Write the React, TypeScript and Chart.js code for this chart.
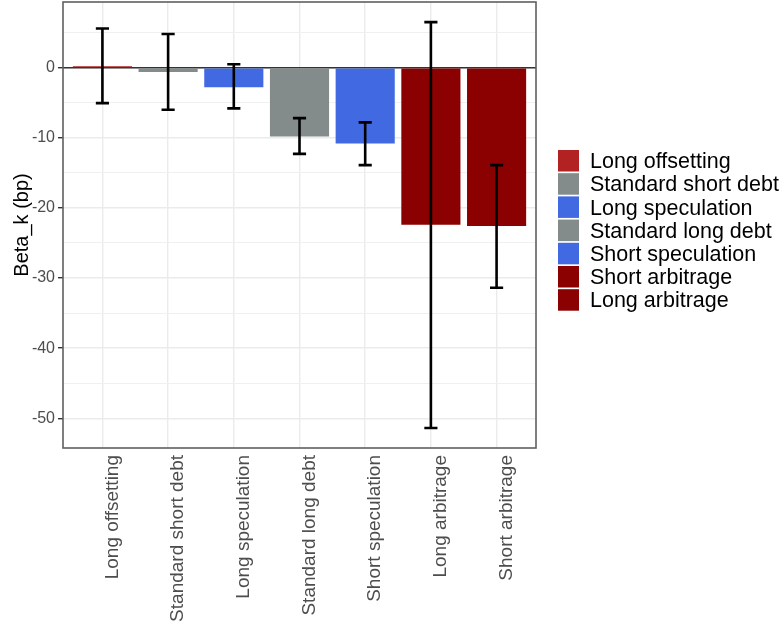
import React, { useEffect, useRef } from "react";
import { Chart, registerables } from "chart.js";

Chart.register(...registerables);

const categories = [
  "Long offsetting",
  "Standard short debt",
  "Long speculation",
  "Standard long debt",
  "Short speculation",
  "Long arbitrage",
  "Short arbitrage",
];
const betaValues = [0.2, -0.6, -2.8, -9.8, -10.8, -22.4, -22.6];
const lowerCI = [-5.05, -6.0, -5.8, -12.3, -13.9, -51.4, -31.4];
const upperCI = [5.6, 4.8, 0.5, -7.2, -7.8, 6.5, -13.9];
const barColors = ["#B22222", "#838B8B", "#4169E1", "#838B8B", "#4169E1", "#8B0000", "#8B0000"];

const legendLabels = [
  "Long offsetting",
  "Standard short debt",
  "Long speculation",
  "Standard long debt",
  "Short speculation",
  "Short arbitrage",
  "Long arbitrage",
];
const legendColors = ["#B22222", "#838B8B", "#4169E1", "#838B8B", "#4169E1", "#8B0000", "#8B0000"];

const yTickValues = [-50, -45, -40, -35, -30, -25, -20, -15, -10, -5, 0, 5];
const yMin = -54.25;
const yMax = 9.37;

const FONT = "'Liberation Sans', Arial, sans-serif";

const decorPlugin = {
  id: "decor",
  beforeDatasetsDraw(chart: any) {
    const { ctx, chartArea, scales } = chart;
    const y0 = scales.y.getPixelForValue(0);
    ctx.save();
    ctx.strokeStyle = "#333333";
    ctx.lineWidth = 1.5;
    ctx.beginPath();
    ctx.moveTo(chartArea.left, y0);
    ctx.lineTo(chartArea.right, y0);
    ctx.stroke();
    ctx.restore();
  },
  afterDatasetsDraw(chart: any) {
    const { ctx, chartArea, scales } = chart;
    const xs = scales.x;
    const ys = scales.y;
    const half = xs.getPixelForValue(0.1) - xs.getPixelForValue(0);
    ctx.save();
    ctx.strokeStyle = "#000000";
    ctx.lineWidth = 2.6;
    ctx.lineCap = "butt";
    categories.forEach((_, i) => {
      const x = xs.getPixelForValue(i);
      const yl = ys.getPixelForValue(lowerCI[i]);
      const yh = ys.getPixelForValue(upperCI[i]);
      ctx.beginPath();
      ctx.moveTo(x, yl);
      ctx.lineTo(x, yh);
      ctx.moveTo(x - half, yl);
      ctx.lineTo(x + half, yl);
      ctx.moveTo(x - half, yh);
      ctx.lineTo(x + half, yh);
      ctx.stroke();
    });
    // panel border
    ctx.strokeStyle = "#5f5f5f";
    ctx.lineWidth = 1.6;
    ctx.strokeRect(chartArea.left, chartArea.top, chartArea.right - chartArea.left, chartArea.bottom - chartArea.top);
    ctx.restore();
  },
  afterDraw(chart: any) {
    const { ctx } = chart;
    ctx.save();
    const keyX = 558;
    const keyW = 21;
    const keyH = 21.5;
    const top0 = 150;
    const step = 23.2;
    ctx.font = `21.5px ${FONT}`;
    ctx.textBaseline = "alphabetic";
    ctx.textAlign = "left";
    legendLabels.forEach((lab, i) => {
      const top = top0 + i * step;
      ctx.fillStyle = legendColors[i];
      ctx.fillRect(keyX, top, keyW, keyH);
      ctx.fillStyle = "#000000";
      ctx.fillText(lab, 590, top + keyH / 2 + 7.5);
    });
    ctx.restore();
  },
};

export default function App() {
  const canvasRef = useRef<HTMLCanvasElement | null>(null);

  useEffect(() => {
    const canvas = canvasRef.current;
    if (!canvas) return;
    const chart = new Chart(canvas, {
      type: "bar",
      data: {
        datasets: [
          {
            data: categories.map((_, i) => ({ x: i, y: betaValues[i] })) as any,
            backgroundColor: barColors,
            borderWidth: 0,
            categoryPercentage: 0.9,
            barPercentage: 1.0,
          },
        ],
      },
      options: {
        animation: false,
        responsive: false,
        devicePixelRatio: 1,
        layout: { padding: { top: 2, right: 248, left: 0, bottom: 0 } },
        plugins: { legend: { display: false }, tooltip: { enabled: false } },
        scales: {
          x: {
            type: "linear",
            min: -0.6,
            max: 6.6,
            offset: false,
            afterBuildTicks: (s: any) => {
              s.ticks = categories.map((_, i) => ({ value: i }));
            },
            afterFit: (s: any) => {
              s.height = 180;
              s.paddingLeft = 0;
              s.paddingRight = 0;
            },
            grid: {
              offset: false,
              color: "#EBEBEB",
              lineWidth: 1.4,
              tickLength: 4,
              tickColor: "rgba(0,0,0,0)",
            },
            border: { display: false },
            ticks: {
              autoSkip: false,
              minRotation: 90,
              maxRotation: 90,
              padding: 3,
              labelOffset: 10,
              color: "#4D4D4D",
              font: { family: FONT, size: 19 },
              callback: (v: any) => categories[v] ?? "",
            },
          },
          y: {
            type: "linear",
            min: yMin,
            max: yMax,
            afterBuildTicks: (s: any) => {
              s.ticks = yTickValues.map((v) => ({ value: v }));
            },
            afterFit: (s: any) => {
              s.width = 63;
              s.paddingTop = 0;
              s.paddingBottom = 0;
            },
            grid: {
              color: (c: any) => (c.tick && c.tick.value % 10 === 0 ? "#EBEBEB" : "#F0F0F0"),
              lineWidth: (c: any) => (c.tick && c.tick.value % 10 === 0 ? 1.4 : 1.0),
              tickLength: 5,
              tickColor: (c: any) => (c.tick && c.tick.value % 10 === 0 ? "#333333" : "rgba(0,0,0,0)"),
            },
            border: { display: false },
            ticks: {
              padding: 3,
              color: "#4D4D4D",
              font: { family: FONT, size: 16 },
              callback: (v: any) => (v % 10 === 0 ? String(v) : ""),
            },
            title: {
              display: true,
              text: "Beta_k (bp)",
              color: "#000000",
              font: { family: FONT, size: 20 },
              padding: { top: 10, bottom: 0 },
            },
          },
        },
      } as any,
      plugins: [decorPlugin],
    });
    return () => chart.destroy();
  }, []);

  return (
    <div style={{ position: "absolute", left: 0, top: 0, width: 784, height: 628, background: "#fff" }}>
      <canvas ref={canvasRef} width={784} height={628} style={{ width: 784, height: 628, display: "block" }} />
    </div>
  );
}
